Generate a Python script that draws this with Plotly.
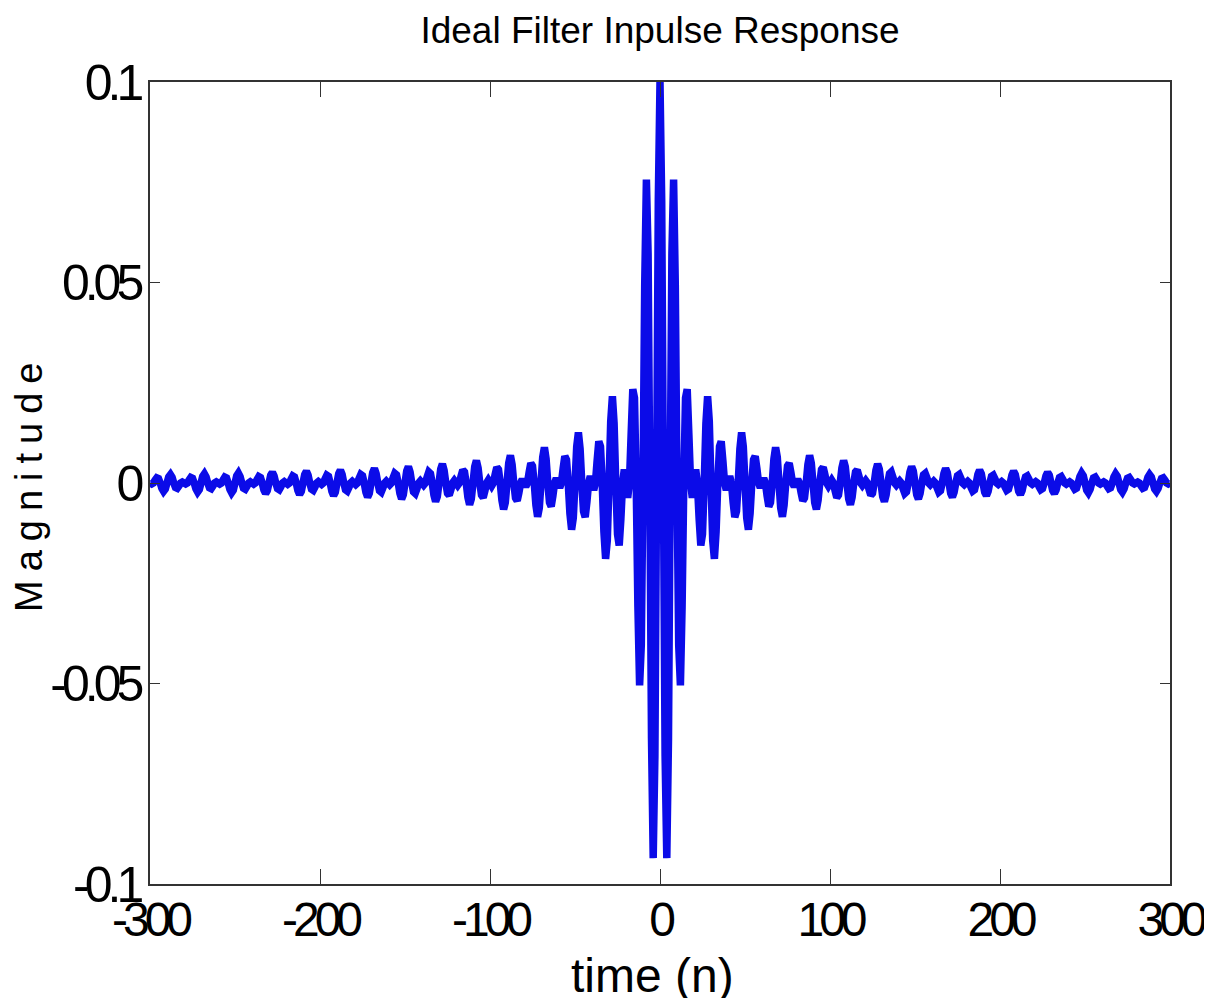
import plotly.graph_objects as go

# sample index n, one value per sample
time_n = list(range(-300, 301))

# magnitude, n = -300 .. -1
magnitude_left = [
    0,
    -.00024, 0, .00069, .00126, .00108, 0, -.00137, -.00207, -.00153, 0, .00154, .00210, .00140, 0, -.00112, -.00132, -.00072, 0, .00025, 0,
    -.00025, 0, .00074, .00136, .00116, 0, -.00147, -.00223, -.00164, 0, .00165, .00226, .00150, 0, -.00120, -.00142, -.00078, 0, .00027, 0,
    -.00027, 0, .00080, .00146, .00125, 0, -.00159, -.00240, -.00177, 0, .00179, .00244, .00162, 0, -.00130, -.00153, -.00084, 0, .00029, 0,
    -.00029, 0, .00086, .00159, .00135, 0, -.00172, -.00261, -.00192, 0, .00194, .00266, .00177, 0, -.00141, -.00167, -.00092, 0, .00032, 0,
    -.00032, 0, .00094, .00173, .00148, 0, -.00188, -.00286, -.00211, 0, .00213, .00291, .00194, 0, -.00155, -.00183, -.00101, 0, .00035, 0,
    -.00035, 0, .00104, .00191, .00163, 0, -.00208, -.00315, -.00233, 0, .00235, .00322, .00214, 0, -.00172, -.00203, -.00112, 0, .00039, 0,
    -.00039, 0, .00115, .00213, .00182, 0, -.00232, -.00352, -.00260, 0, .00263, .00360, .00240, 0, -.00193, -.00228, -.00125, 0, .00044, 0,
    -.00044, 0, .00130, .00240, .00205, 0, -.00262, -.00398, -.00294, 0, .00298, .00409, .00273, 0, -.00220, -.00260, -.00143, 0, .00050, 0,
    -.00051, 0, .00149, .00275, .00236, 0, -.00302, -.00459, -.00339, 0, .00345, .00473, .00316, 0, -.00255, -.00302, -.00166, 0, .00058, 0,
    -.00059, 0, .00175, .00323, .00277, 0, -.00355, -.00541, -.00401, 0, .00408, .00561, .00375, 0, -.00303, -.00360, -.00198, 0, .00070, 0,
    -.00071, 0, .00211, .00390, .00335, 0, -.00431, -.00658, -.00489, 0, .00500, .00688, .00461, 0, -.00374, -.00445, -.00246, 0, .00087, 0,
    -.00089, 0, .00265, .00492, .00424, 0, -.00549, -.00841, -.00626, 0, .00644, .00890, .00599, 0, -.00490, -.00585, -.00324, 0, .00115, 0,
    -.00119, 0, .00359, .00668, .00579, 0, -.00757, -.01164, -.00872, 0, .00907, .01261, .00853, 0, -.00707, -.00850, -.00475, 0, .00172, 0,
    -.00181, 0, .00552, .01039, .00909, 0, -.01215, -.01892, -.01434, 0, .01533, .02162, .01486, 0, -.01273, -.01559, -.00889, 0, .00335, 0,
    -.00371, 0, .01202, .02339, .02122, 0, -.03085, -.05046, -.04042, 0, .04940, .07568, .05730, 0, -.06366, -.09355, -.06812, 0, .07042,
]

# magnitude, n = 0 .. 300
magnitude_right = [
    0.1, .07042, 0, -.06812, -.09355, -.06366, 0, .05730, .07568, .04940, 0, -.04042, -.05046, -.03085, 0, .02122, .02339, .01202, 0, -.00371,
    0, .00335, 0, -.00889, -.01559, -.01273, 0, .01486, .02162, .01533, 0, -.01434, -.01892, -.01215, 0, .00909, .01039, .00552, 0, -.00181,
    0, .00172, 0, -.00475, -.00850, -.00707, 0, .00853, .01261, .00907, 0, -.00872, -.01164, -.00757, 0, .00579, .00668, .00359, 0, -.00119,
    0, .00115, 0, -.00324, -.00585, -.00490, 0, .00599, .00890, .00644, 0, -.00626, -.00841, -.00549, 0, .00424, .00492, .00265, 0, -.00089,
    0, .00087, 0, -.00246, -.00445, -.00374, 0, .00461, .00688, .00500, 0, -.00489, -.00658, -.00431, 0, .00335, .00390, .00211, 0, -.00071,
    0, .00070, 0, -.00198, -.00360, -.00303, 0, .00375, .00561, .00408, 0, -.00401, -.00541, -.00355, 0, .00277, .00323, .00175, 0, -.00059,
    0, .00058, 0, -.00166, -.00302, -.00255, 0, .00316, .00473, .00345, 0, -.00339, -.00459, -.00302, 0, .00236, .00275, .00149, 0, -.00051,
    0, .00050, 0, -.00143, -.00260, -.00220, 0, .00273, .00409, .00298, 0, -.00294, -.00398, -.00262, 0, .00205, .00240, .00130, 0, -.00044,
    0, .00044, 0, -.00125, -.00228, -.00193, 0, .00240, .00360, .00263, 0, -.00260, -.00352, -.00232, 0, .00182, .00213, .00115, 0, -.00039,
    0, .00039, 0, -.00112, -.00203, -.00172, 0, .00214, .00322, .00235, 0, -.00233, -.00315, -.00208, 0, .00163, .00191, .00104, 0, -.00035,
    0, .00035, 0, -.00101, -.00183, -.00155, 0, .00194, .00291, .00213, 0, -.00211, -.00286, -.00188, 0, .00148, .00173, .00094, 0, -.00032,
    0, .00032, 0, -.00092, -.00167, -.00141, 0, .00177, .00266, .00194, 0, -.00192, -.00261, -.00172, 0, .00135, .00159, .00086, 0, -.00029,
    0, .00029, 0, -.00084, -.00153, -.00130, 0, .00162, .00244, .00179, 0, -.00177, -.00240, -.00159, 0, .00125, .00146, .00080, 0, -.00027,
    0, .00027, 0, -.00078, -.00142, -.00120, 0, .00150, .00226, .00165, 0, -.00164, -.00223, -.00147, 0, .00116, .00136, .00074, 0, -.00025,
    0, .00025, 0, -.00072, -.00132, -.00112, 0, .00140, .00210, .00154, 0, -.00153, -.00207, -.00137, 0, .00108, .00126, .00069, 0, -.00024,
    0,
]

magnitude = magnitude_left + magnitude_right
assert len(magnitude) == len(time_n)

x_ticks = [-300, -200, -100, 0, 100, 200, 300]
x_tick_labels = ["-300", "-200", "-100", "0", "100", "200", "300"]
y_ticks = [-0.1, -0.05, 0, 0.05, 0.1]
y_tick_labels = ["-0.1", "-0.05", "0", "0.05", "0.1"]

FONT = "Liberation Sans, Arial, sans-serif"
AXIS_COLOR = "#333333"


def squeeze(label, px=-5):
    # tick labels in the original are tall and narrow
    return f'<span style="letter-spacing:{px}px">{label}</span>'


fig = go.Figure()
fig.add_scatter(
    x=time_n,
    y=magnitude,
    mode="lines",
    line=dict(color="#0b0be8", width=7.5, simplify=False),
    showlegend=False,
    hoverinfo="skip",
)

axis_common = dict(
    showgrid=False,
    zeroline=False,
    showline=True,
    linecolor=AXIS_COLOR,
    linewidth=1.5,
    mirror="ticks",
    ticks="inside",
    tickcolor=AXIS_COLOR,
    tickwidth=1.3,
    automargin=False,
    ticklabeloverflow="allow",
)

fig.update_xaxes(
    range=[-300, 300],
    tickvals=x_ticks,
    ticktext=[squeeze(t) for t in x_tick_labels],
    ticklen=15,
    ticklabelstandoff=-7,
    tickfont=dict(family=FONT, size=48, color="black"),
    **axis_common,
)
fig.update_yaxes(
    range=[-0.1, 0.1],
    tickvals=y_ticks,
    ticktext=[squeeze(t) for t in y_tick_labels],
    ticklen=10,
    ticklabelstandoff=-1,
    tickfont=dict(family=FONT, size=50, color="black"),
    **axis_common,
)

# the page body adds 8px around the figure, so the figure is sized to fit the window
fig.update_layout(
    width=1196,
    height=990,
    margin=dict(l=142, r=34, t=74, b=114, autoexpand=False),
    paper_bgcolor="white",
    plot_bgcolor="white",
    title=dict(
        text="Ideal Filter Inpulse Response",
        x=0.5,
        xref="paper",
        xanchor="center",
        y=0.978,
        yref="container",
        yanchor="middle",
        font=dict(family=FONT, size=37, color="black"),
    ),
)

# axis titles as annotations so they sit where the original has them
fig.add_annotation(
    text="time (n)",
    x=0.5, xref="paper", xanchor="center", xshift=-8,
    y=0, yref="paper", yanchor="middle", yshift=-91,
    showarrow=False,
    font=dict(family=FONT, size=48, color="black"),
)
fig.add_annotation(
    text='<span style="letter-spacing:9px">Magnitude</span>',
    x=0, xref="paper", xanchor="center", xshift=-121,
    y=0.5, yref="paper", yanchor="middle",
    textangle=-90,
    showarrow=False,
    font=dict(family=FONT, size=38, color="black"),
)

fig.write_html("out.html")
